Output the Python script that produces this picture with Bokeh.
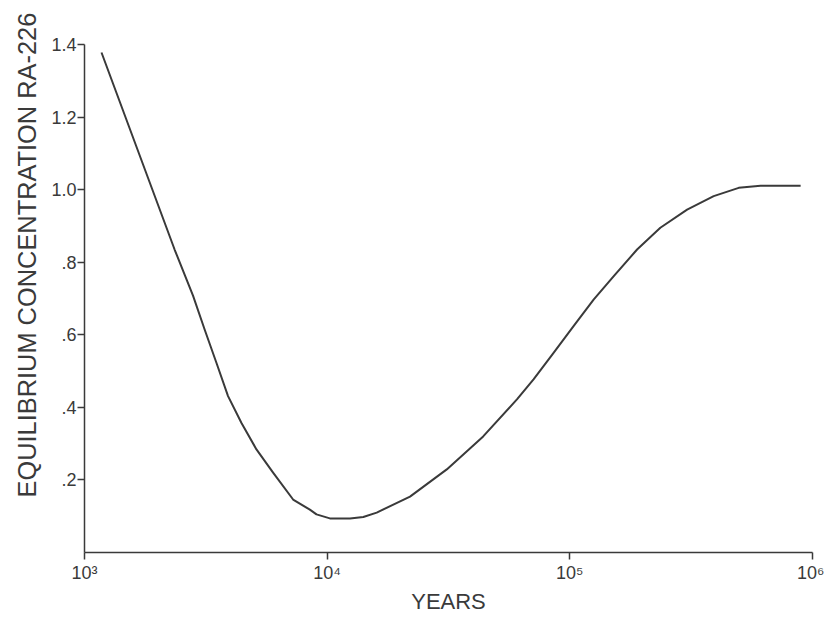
from bokeh.plotting import figure
from bokeh.models import Range1d, FixedTicker, Title
from bokeh.embed import file_html
from bokeh.resources import INLINE

years = [1175, 2351, 2800, 3129, 3496, 3904, 4435, 5112, 5986, 7238, 8485,
         9036, 10260, 12420, 14090, 16000, 21950, 31110, 43950, 60540, 70860,
         85700, 103600, 125300, 151400, 189300, 236000, 304300, 391600, 496500,
         611000, 893500]
conc = [1.378, 0.835, 0.708, 0.614, 0.523, 0.431, 0.357, 0.284, 0.220, 0.146,
        0.118, 0.105, 0.094, 0.094, 0.098, 0.110, 0.154, 0.229, 0.320, 0.422,
        0.477, 0.550, 0.624, 0.697, 0.761, 0.835, 0.895, 0.945, 0.982, 1.005,
        1.011, 1.011]

x_ticks = [1e3, 1e4, 1e5, 1e6]
x_tick_labels = ["10\u00b3", "10\u2074", "10\u2075", "10\u2076"]
y_ticks = [0.2, 0.4, 0.6, 0.8, 1.0, 1.2, 1.4]
y_tick_labels = [".2", ".4", ".6", ".8", "1.0", "1.2", "1.4"]

FONT = "Liberation Sans"
INK = "#3a3a3a"

p = figure(width=824, height=616, x_axis_type="log",
           x_range=Range1d(1e3, 1e6), y_range=Range1d(0, 1.4),
           output_backend="svg", toolbar_location=None,
           min_border_left=84, min_border_right=12,
           min_border_top=44, min_border_bottom=63)
p.outline_line_color = None
p.grid.visible = False
p.background_fill_color = "white"

p.line(years, conc, line_color=INK, line_width=2, line_join="round")

p.xaxis.ticker = FixedTicker(ticks=x_ticks)
p.xaxis.major_label_overrides = {t: l for t, l in zip(x_ticks, x_tick_labels)}
p.yaxis.ticker = FixedTicker(ticks=y_ticks)
p.yaxis.major_label_overrides = {t: l for t, l in zip(y_ticks, y_tick_labels)}

for ax in (p.xaxis[0], p.yaxis[0]):
    ax.axis_line_color = INK
    ax.axis_line_width = 1.5
    ax.major_tick_line_color = INK
    ax.major_tick_line_width = 1.5
    ax.major_tick_out = 7
    ax.major_tick_in = 0
    ax.minor_tick_line_color = None
    ax.major_label_text_font = FONT
    ax.major_label_text_font_size = "18px"
    ax.major_label_text_color = INK

p.xaxis.major_label_standoff = 3
p.yaxis.major_label_standoff = 1
p.xaxis.axis_label = "YEARS"
p.xaxis.axis_label_text_font = FONT
p.xaxis.axis_label_text_font_size = "22px"
p.xaxis.axis_label_text_font_style = "normal"
p.xaxis.axis_label_text_color = INK
p.xaxis.axis_label_standoff = 3

ylab = Title(text="EQUILIBRIUM  CONCENTRATION  RA-226", align="left",
             offset=55, text_font=FONT, text_font_size="25.4px",
             text_font_style="normal", text_color=INK, standoff=16)
p.add_layout(ylab, "left")

open("out.html", "w").write(file_html(p, INLINE))
